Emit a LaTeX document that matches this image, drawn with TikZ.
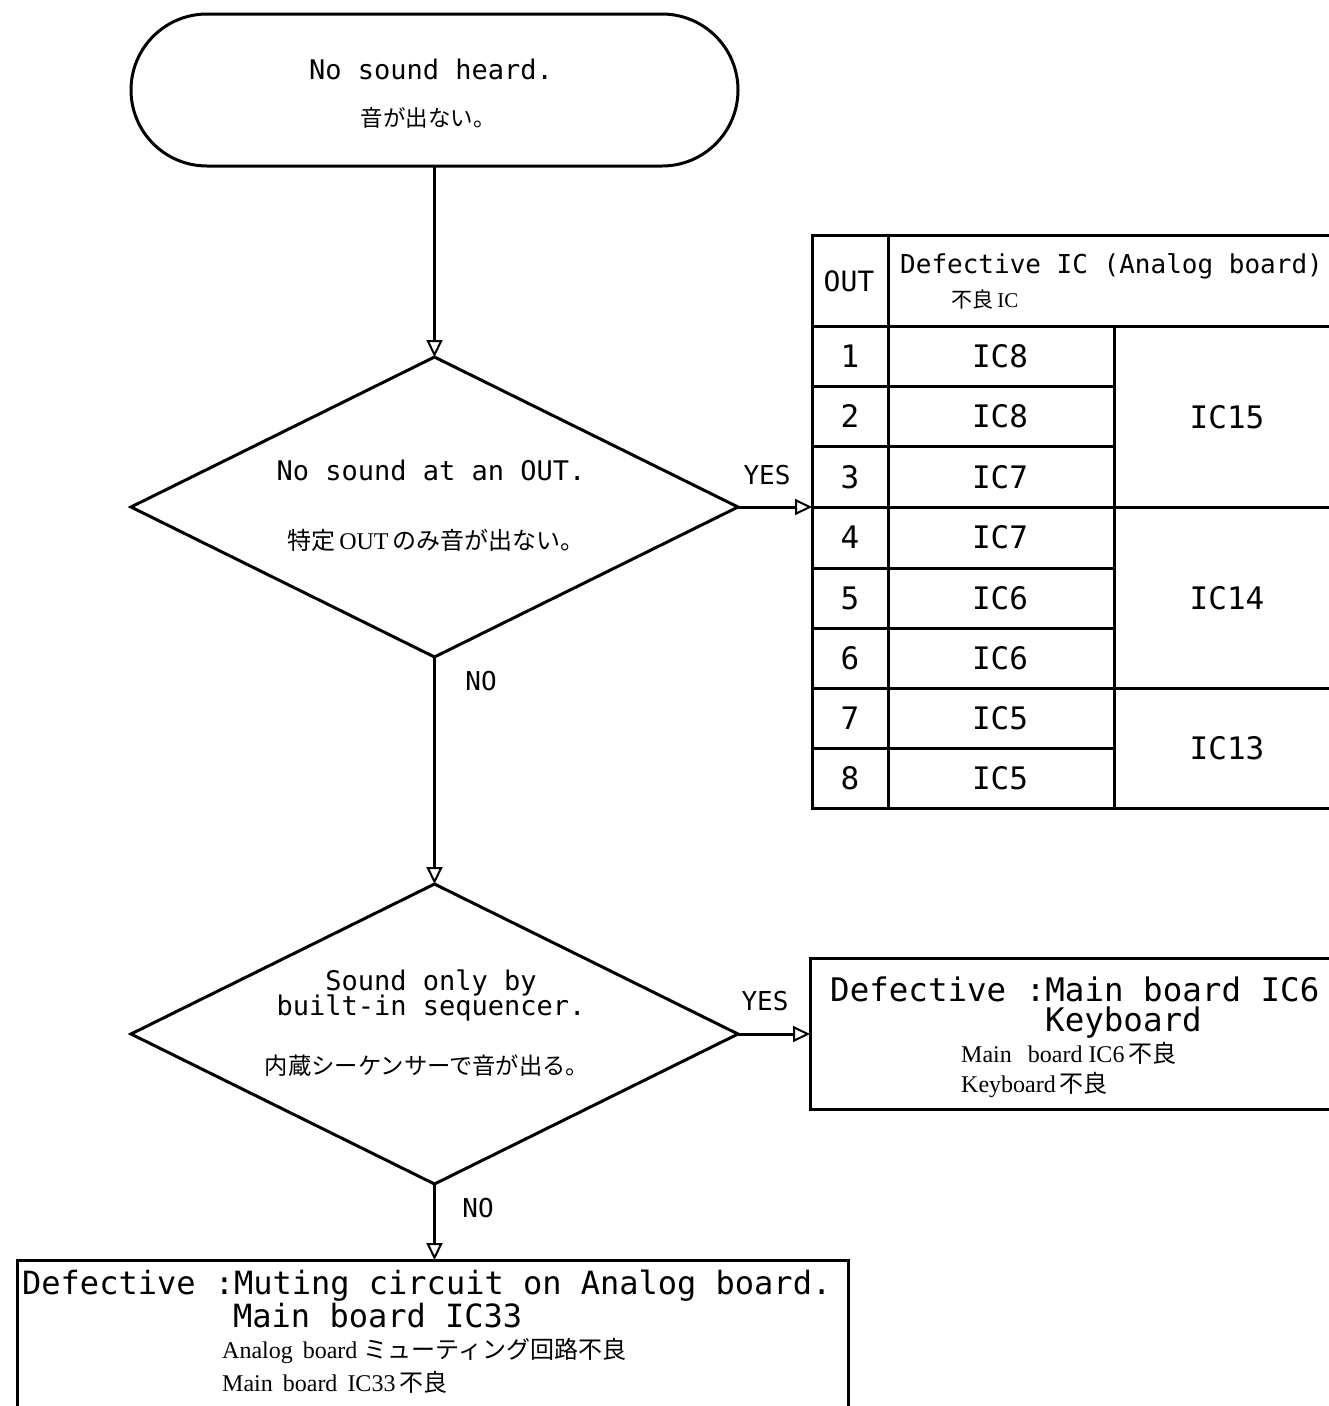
\documentclass[tikz,border=0pt]{standalone}
\usepackage{fontspec}
\setmainfont{Liberation Serif}
\setmonofont{DejaVu Sans Mono}
\newfontfamily\jpfont{Noto Sans CJK JP}
\newcommand\JP[1]{{\jpfont #1}}
\usetikzlibrary{shapes.geometric,arrows.meta}
\tikzset{
  line/.style={line width=3pt},
  arr/.style={line width=3pt,-{Triangle[open,length=17pt,width=16pt,line width=2pt]}},
  en/.style={font=\ttfamily\fontsize{27}{30}\selectfont, inner sep=0pt},
  big/.style={font=\ttfamily\fontsize{32.5}{34}\selectfont, inner sep=0pt, text height=22pt, text depth=6pt},
  tbl/.style={font=\ttfamily\fontsize{31}{33}\selectfont, inner sep=0pt},
  jp/.style={font=\fontsize{22.5}{25}\selectfont, inner sep=0pt},
  jpb/.style={font=\fontsize{24}{26}\selectfont, inner sep=0pt},
  lbl/.style={font=\ttfamily\fontsize{26}{28}\selectfont, inner sep=0pt},
  dia/.style={diamond, draw, line width=3pt, minimum width=607pt, minimum height=300pt, inner sep=0pt, outer sep=0pt},
}
\begin{document}
\begin{tikzpicture}[x=1pt,y=-1pt]
\useasboundingbox (0,0) rectangle (1329,1406);
\fill[white] (0,0) rectangle (1329,1406);
\begin{scope}
\clip (0,0) rectangle (1329,1406);

% start terminal
\node[draw, line width=3pt, rounded corners=76pt, minimum width=607pt, minimum height=152pt, inner sep=0pt, outer sep=0pt] (start) at (434.5,90) {};
\node[en] (t1) at (431,69) {No sound heard.};
\node[jp] (t2) at (428,118) {\JP{音が出ない。}};

% decision 1
\node[dia] (d1) at (434.5,507) {};
\node[en] (d1a) at (431,470) {No sound at an OUT.};
\node[jp, font=\fontsize{24}{26}\selectfont] (d1b) at (436,540) {\JP{特定}\,OUT\,\JP{のみ音が出ない。}};

% decision 2
\node[dia] (d2) at (434.5,1034) {};
\node[en] (d2a) at (431,983) {Sound only by};
\node[en] (d2b) at (431,1008) {built-in sequencer.};
\node[jp, font=\fontsize{23.3}{25}\selectfont] (d2c) at (427,1066) {\JP{内蔵シーケンサーで音が出る。}};

% result boxes
\node[draw, line width=3pt, anchor=north west, minimum width=545pt, minimum height=151pt, inner sep=0pt, outer sep=0pt] (r1) at (810,958) {};
\node[big, anchor=west] (r1a) at (830,993) {Defective :Main board IC6};
\node[big, anchor=west] (r1b) at (1045,1023) {Keyboard};
\node[jpb, anchor=west] (r1c) at (961,1053) {Main\hspace{16pt}board\hspace{6pt}IC6\,\JP{不良}};
\node[jpb, anchor=west] (r1d) at (961,1085) {Keyboard\,\JP{不良}};

\node[draw, line width=3pt, anchor=north west, minimum width=831pt, minimum height=180pt, inner sep=0pt, outer sep=0pt] (r2) at (17,1260) {};
\node[big, anchor=west, font=\ttfamily\fontsize{32}{34}\selectfont] (r2a) at (22,1286) {Defective :Muting circuit on Analog board.};
\node[big, anchor=west, font=\ttfamily\fontsize{32}{34}\selectfont] (r2b) at (233,1319) {Main board IC33};
\node[jpb, anchor=west] (r2c) at (222,1351) {Analog\hspace{10pt}board\hspace{6pt}\JP{ミューティング回路不良}};
\node[jpb, anchor=west] (r2d) at (222,1382) {Main\hspace{10pt}board\hspace{10pt}IC33\,\JP{不良}};

% table
\coordinate (tw) at (812,507);
\draw[line] (812,235) -- (1345,235);
\draw[line] (812,233.5) -- (812,809.5);
\draw[line] (812,808) -- (1345,808);
\draw[line] (888,235) -- (888,808);
\draw[line] (1114,326) -- (1114,808);
\draw[line] (812,326) -- (1345,326);
\draw[line] (812,507) -- (1345,507);
\draw[line] (812,688) -- (1345,688);
\foreach \yy in {386,446,568,628,748} \draw[line] (812,\yy) -- (1114,\yy);

\node[lbl, font=\ttfamily\fontsize{28}{30}\selectfont] (hout) at (849,281) {OUT};
\node[lbl, anchor=west] (hdef) at (900,266) {Defective IC (Analog board)};
\node[jp, font=\fontsize{21}{23}\selectfont] (hjp) at (985,300) {\JP{不良}\,IC};

\node[tbl] (n1) at (850,356) {1};
\node[tbl] (n2) at (850,416) {2};
\node[tbl] (n3) at (850,477) {3};
\node[tbl] (n4) at (850,537) {4};
\node[tbl] (n5) at (850,598) {5};
\node[tbl] (n6) at (850,658) {6};
\node[tbl] (n7) at (850,718) {7};
\node[tbl] (n8) at (850,778) {8};
\node[tbl] (c1) at (1000,356) {IC8};
\node[tbl] (c2) at (1000,416) {IC8};
\node[tbl] (c3) at (1000,477) {IC7};
\node[tbl] (c4) at (1000,537) {IC7};
\node[tbl] (c5) at (1000,598) {IC6};
\node[tbl] (c6) at (1000,658) {IC6};
\node[tbl] (c7) at (1000,718) {IC5};
\node[tbl] (c8) at (1000,778) {IC5};
\node[tbl] (g1) at (1227,417) {IC15};
\node[tbl] (g2) at (1227,598) {IC14};
\node[tbl] (g3) at (1227,748) {IC13};

% connectors
\draw[arr] (start.south) -- (d1.north);
\draw[arr] (d1.south) -- (d2.north);
\draw[arr] (d1.east) -- (tw);
\draw[arr] (d2.east) -- (r1.west |- d2.east);
\draw[arr] (d2.south) -- (d2.south |- r2.north);

\node[lbl] (y1) at (767,475) {YES};
\node[lbl] (no1) at (481,681) {NO};
\node[lbl] (y2) at (765,1001) {YES};
\node[lbl] (no2) at (478,1208) {NO};
\end{scope}
\end{tikzpicture}
\end{document}
